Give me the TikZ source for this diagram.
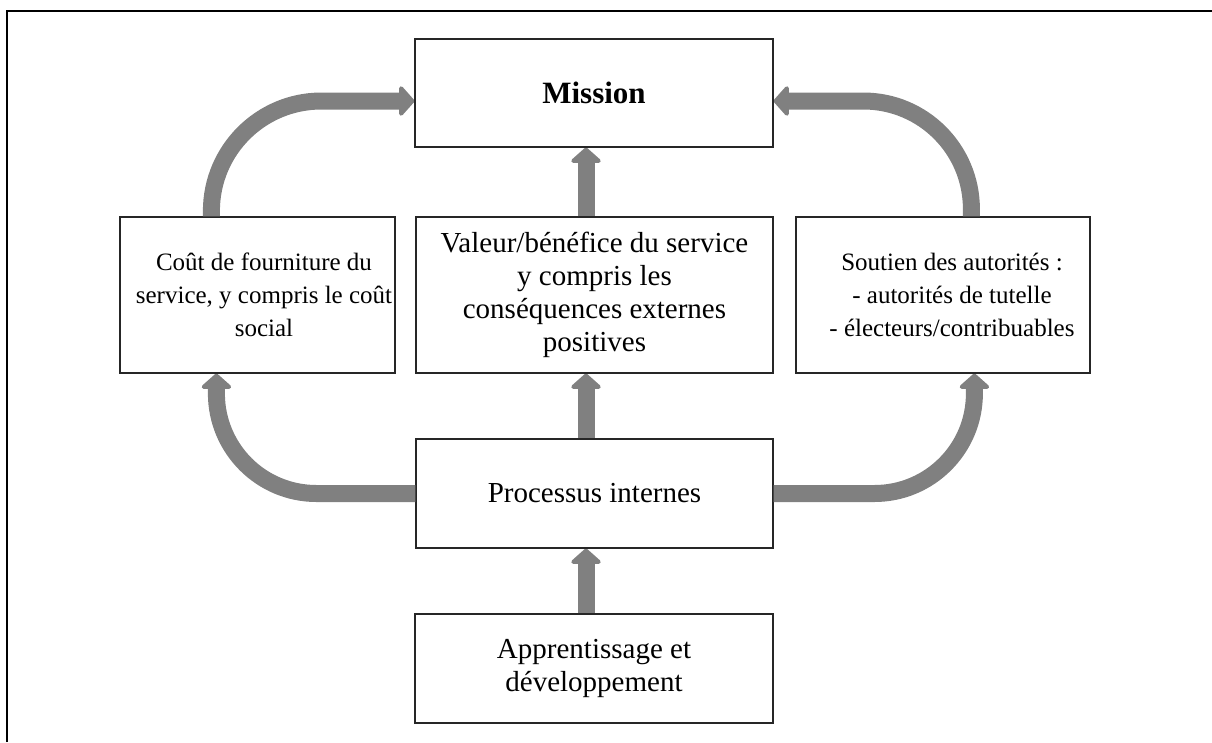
\documentclass[tikz,border=0pt]{standalone}
\usepackage{fontspec}
\setmainfont{Liberation Serif}
\usetikzlibrary{arrows.meta,calc}
\begin{document}
\begin{tikzpicture}[x=1pt,y=-1pt,
  box/.style={draw=black!85, line width=1.2pt, align=center, inner sep=0pt,
    font=\fontsize{29}{33}\selectfont},
  sidetext/.style={align=center, inner sep=0pt, font=\fontsize{25}{33}\selectfont},
  bigarr/.style={draw=gray, line width=17pt,
    -{Triangle[width=35pt,length=16pt,round]}},
]
\useasboundingbox (0,0) rectangle (1212,742);
\draw[line width=2pt] (7,742) -- (7,11) -- (1212,11);

\node[box, minimum width=358pt, minimum height=108pt,
  font=\fontsize{31}{35}\selectfont\bfseries] (mission) at (594,93) {Mission};
\node[box, minimum width=275pt, minimum height=156pt] (cout) at (257.5,295) {};
\node[sidetext] (couttext) at (264,295)
  {Coût de fourniture du\\service, y compris le coût\\social};
\node[box, minimum width=357pt, minimum height=156pt] (valeur) at (594.5,295)
  {Valeur/bénéfice du service\\y compris les\\conséquences externes\\positives};
\node[box, minimum width=294pt, minimum height=156pt] (soutien) at (943,295) {};
\node[sidetext] (soutientext) at (952,295)
  {Soutien des autorités :\\- autorités de tutelle\\- électeurs/contribuables};
\node[box, minimum width=357pt, minimum height=109pt] (proc) at (594.5,493.5)
  {Processus internes};
\node[box, minimum width=358pt, minimum height=109pt] (app) at (594,668.5)
  {Apprentissage et\\développement};

% curved arrows to mission
\draw[bigarr, rounded corners=110pt]
  ($(cout.north west)+(92,0)$) |- ($(mission.west)+(0,8)$);
\draw[bigarr, rounded corners=108pt]
  ($(soutien.north west)+(176,0)$) |- ($(mission.east)+(0,8)$);
% straight arrows
\draw[bigarr] ($(valeur.north)+(-8.5,0)$) -- ($(mission.south)+(-8,0)$);
\draw[bigarr] ($(proc.north)+(-8.5,0)$) -- ($(valeur.south)+(-8.5,0)$);
\draw[bigarr] ($(app.north)+(-8,0)$) -- ($(proc.south)+(-8.5,0)$);
% curved arrows from processus
\draw[bigarr, rounded corners=100pt]
  (proc.west) -| ($(cout.south west)+(97,0)$);
\draw[bigarr, rounded corners=100pt]
  (proc.east) -| ($(soutien.south west)+(179,0)$);
\end{tikzpicture}
\end{document}
